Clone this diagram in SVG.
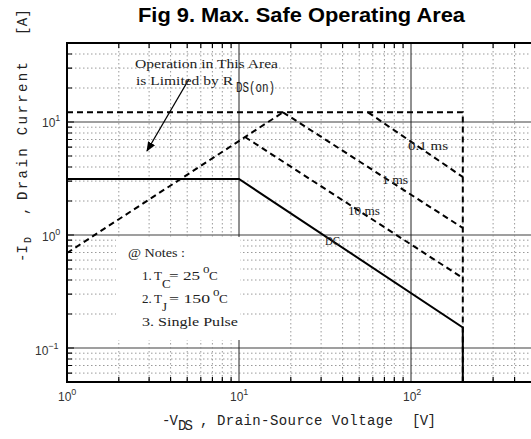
<svg xmlns="http://www.w3.org/2000/svg" width="531" height="439" viewBox="0 0 531 439">
<style>
.minor{stroke:#9a9a9a;stroke-width:1;stroke-dasharray:1.5 2.5;fill:none}
.tick{stroke:#000;stroke-width:1.2}
.majh{stroke:#808080;stroke-width:1.6}
.majv{stroke:#222;stroke-width:1}
.frame{stroke:#000;stroke-width:2;fill:none}
.dash{stroke:#000;stroke-width:2;stroke-dasharray:6 4;fill:none}
.solid{stroke:#000;stroke-width:2;fill:none}
.ser{font-family:"Liberation Serif",serif;font-size:13px;fill:#222}
.mono{font-family:"Liberation Mono",monospace;font-size:14px;fill:#222}
.tl{font-family:"Liberation Sans",sans-serif;font-size:12px;fill:#333}
.title{font-family:"Liberation Sans",Arial,sans-serif;font-size:21px;font-weight:bold;fill:#000}
</style>
<defs>
<marker id="ah" markerWidth="10" markerHeight="8" refX="9" refY="4" orient="auto" markerUnits="userSpaceOnUse">
<path d="M0,0 L10,4 L0,8 Z" fill="#000"/>
</marker>
</defs>
<rect width="531" height="439" fill="#fff"/>
<text class="title" x="138" y="22" textLength="327" lengthAdjust="spacingAndGlyphs">Fig 9.  Max. Safe Operating Area</text>

<g id="grid">
<path class="minor" d="M118.8,43V382M149.1,43V382M170.6,43V382M187.2,43V382M200.8,43V382M212.4,43V382M222.3,43V382M231.1,43V382M290.8,43V382M321.1,43V382M342.6,43V382M359.2,43V382M372.8,43V382M384.4,43V382M394.3,43V382M403.1,43V382M462.8,43V382M493.1,43V382M514.6,43V382"/>
<path class="minor" d="M67,54H531M67,68.1H531M67,88H531M67,127.2H531M67,133H531M67,139.5H531M67,147.1H531M67,156H531M67,167H531M67,181.1H531M67,201H531M67,240.2H531M67,246H531M67,252.5H531M67,260.1H531M67,269H531M67,280H531M67,294.1H531M67,314H531M67,353.2H531M67,359H531M67,365.5H531M67,373.1H531"/>
<path class="majh" d="M67,122H531M67,235H531M67,348H531"/>
<path class="majv" d="M239,43V382M411,43V382"/>
<path class="tick" d="M67,54h5M67,68.1h5M67,88h5M67,127.2h5M67,133h5M67,139.5h5M67,147.1h5M67,156h5M67,167h5M67,181.1h5M67,201h5M67,240.2h5M67,246h5M67,252.5h5M67,260.1h5M67,269h5M67,280h5M67,294.1h5M67,314h5M67,353.2h5M67,359h5M67,365.5h5M67,373.1h5M67,122h7M67,235h7M67,348h7"/>
<path class="tick" d="M118.8,382v-5M149.1,382v-5M170.6,382v-5M187.2,382v-5M200.8,382v-5M212.4,382v-5M222.3,382v-5M231.1,382v-5M290.8,382v-5M321.1,382v-5M342.6,382v-5M359.2,382v-5M372.8,382v-5M384.4,382v-5M394.3,382v-5M403.1,382v-5M462.8,382v-5M493.1,382v-5M514.6,382v-5"/>
<path class="tick" d="M118.8,43v5M149.1,43v5M170.6,43v5M187.2,43v5M200.8,43v5M212.4,43v5M222.3,43v5M231.1,43v5M290.8,43v5M321.1,43v5M342.6,43v5M359.2,43v5M372.8,43v5M384.4,43v5M394.3,43v5M403.1,43v5M462.8,43v5M493.1,43v5M514.6,43v5"/>
<path class="frame" d="M532,43H67V382H532"/>
</g>

<g id="tick-labels" class="tl">
<text x="58" y="401">10<tspan dy="-6" font-size="9">0</tspan></text>
<text x="230" y="401">10<tspan dy="-6" font-size="9">1</tspan></text>
<text x="403" y="401">10<tspan dy="-6" font-size="9">2</tspan></text>
<text x="42" y="127">10<tspan dy="-6" font-size="9">1</tspan></text>
<text x="42" y="241">10<tspan dy="-6" font-size="9">0</tspan></text>
<text x="35" y="355">10<tspan dy="-6" font-size="9">−1</tspan></text>
</g>

<g id="notes">
<rect x="116" y="237" width="124" height="103" fill="#fff"/>
<text class="ser" x="128" y="257" textLength="57" lengthAdjust="spacingAndGlyphs">@ Notes :</text>
<text class="ser" x="142" y="280">1.</text>
<text class="ser" x="154" y="280">T</text>
<text class="ser" x="162" y="288" font-size="9">C</text>
<text class="ser" x="169" y="280" textLength="31" lengthAdjust="spacingAndGlyphs">= 25</text>
<text class="ser" x="203" y="273" font-size="8">o</text>
<text class="ser" x="209" y="280">C</text>
<text class="ser" x="142" y="303">2.</text>
<text class="ser" x="154" y="303">T</text>
<text class="ser" x="162" y="311" font-size="9">J</text>
<text class="ser" x="169" y="303" textLength="41" lengthAdjust="spacingAndGlyphs">= 150</text>
<text class="ser" x="213" y="296" font-size="8">o</text>
<text class="ser" x="219" y="303">C</text>
<text class="ser" x="142" y="326" textLength="96" lengthAdjust="spacingAndGlyphs">3. Single Pulse</text>
</g>

<g id="connectors">
<path id="limit-12A" class="dash" d="M67,112.3H462.8V382"/>
<path id="rds-on" class="dash" d="M67,253L283,112.3"/>
<path id="ms1" class="dash" d="M283,112.3L462.8,228"/>
<path id="ms01" class="dash" d="M368,112.3L462.8,177"/>
<path id="ms10" class="dash" d="M245,137L462.8,278"/>
<path id="dc" class="solid" d="M67,179H239L462.8,327.5V382"/>
<path id="arrow" d="M189,79L147,151" stroke="#000" stroke-width="1.3" fill="none" marker-end="url(#ah)"/>
</g>

<g id="labels">
<text class="ser" x="135" y="68" textLength="143" lengthAdjust="spacingAndGlyphs">Operation in This Area</text>
<text class="ser" x="136" y="85" textLength="97" lengthAdjust="spacingAndGlyphs">is Limited by R</text>
<text class="mono" x="236" y="92" font-size="10" textLength="39" lengthAdjust="spacingAndGlyphs">DS(on)</text>
<text class="ser" x="408" y="150" textLength="40" lengthAdjust="spacingAndGlyphs">0.1 ms</text>
<text class="ser" x="382" y="184" textLength="26" lengthAdjust="spacingAndGlyphs">1 ms</text>
<text class="ser" x="348" y="215" textLength="32" lengthAdjust="spacingAndGlyphs">10 ms</text>
<text class="ser" x="325" y="245" textLength="15" lengthAdjust="spacingAndGlyphs">DC</text>
</g>

<g id="axis-titles">
<text class="mono" x="162" y="425" textLength="16" lengthAdjust="spacing">-V</text>
<text class="mono" x="178" y="430" font-size="10" textLength="15" lengthAdjust="spacing">DS</text>
<text class="mono" x="200" y="425">,</text>
<text class="mono" x="217" y="425" textLength="176" lengthAdjust="spacing">Drain-Source Voltage</text>
<text class="mono" x="412" y="425" textLength="24" lengthAdjust="spacing">[V]</text>
<g class="mono" font-size="15">
<text transform="translate(27,262) rotate(-90)">-I</text>
<text transform="translate(31,243) rotate(-90)" font-size="10">D</text>
<text transform="translate(27,215) rotate(-90)">,</text>
<text transform="translate(27,200) rotate(-90)" textLength="138" lengthAdjust="spacing">Drain Current</text>
<text transform="translate(27,35) rotate(-90)" textLength="26" lengthAdjust="spacing">[A]</text>
</g>
</g>
</svg>
